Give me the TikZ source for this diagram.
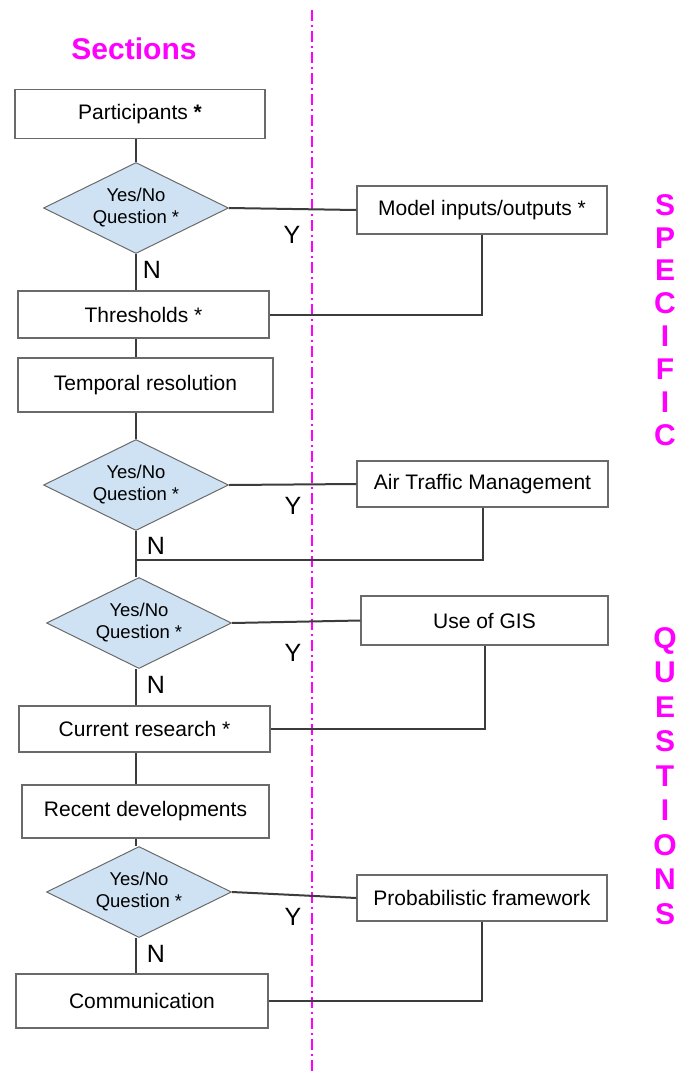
\documentclass[tikz,border=0pt]{standalone}
\usepackage{fontspec}
\setmainfont{Liberation Sans}
\usetikzlibrary{shapes.geometric}
\definecolor{mag}{HTML}{FF00FF}
\definecolor{dblue}{HTML}{CFE2F3}
\definecolor{lnc}{HTML}{3C3C3C}
\definecolor{bdc}{HTML}{6A6A6A}
\tikzset{
  boxn/.style={draw=bdc, line width=1.3pt, fill=white, inner sep=0pt, font=\fontsize{21}{25}\selectfont},
  dia/.style={diamond, draw=bdc, line width=1pt, fill=dblue, aspect=2, inner sep=0pt,
    minimum width=185pt, minimum height=91pt, align=center, font=\fontsize{18.5}{22}\selectfont},
  conn/.style={draw=lnc, line width=2pt},
  yn/.style={font=\fontsize{25}{28}\selectfont, inner sep=0pt},
  vert/.style={text=mag, align=center, inner sep=0pt},
}
\begin{document}
\begin{tikzpicture}[x=1pt, y=-1pt]
\useasboundingbox (0,0) rectangle (692,1071);
% divider
\coordinate (vt) at (312,10);
\coordinate (vb) at (312,1071);
\draw[mag, line width=2pt, dash pattern=on 11pt off 4pt on 2pt off 4pt] (vt) -- (vb);
% title
\node[text=mag, font=\bfseries\fontsize{30}{34}\selectfont, inner sep=0pt] (title) at (134,49) {Sections};
% left column
\node[boxn, minimum width=250pt, minimum height=49pt] (part) at (140,114) {Participants \textbf{*}};
\node[dia] (d1) at (136,208) {Yes/No\\Question *};
\node[boxn, minimum width=251pt, minimum height=47pt] (thr) at (143.5,314.5) {Thresholds *};
\node[boxn, minimum width=255pt, minimum height=54pt] (tmp) at (145.5,385) {Temporal resolution};
\node[dia] (d2) at (136,485) {Yes/No\\Question *};
\coordinate (j2) at (137,560);
\node[dia] (d3) at (139,623) {Yes/No\\Question *};
\node[boxn, minimum width=251pt, minimum height=46pt] (cur) at (144.5,729) {Current research *};
\node[boxn, minimum width=247pt, minimum height=53pt] (rec) at (145.5,811.5) {Recent developments};
\node[dia] (d4) at (139,892) {Yes/No\\Question *};
\node[boxn, minimum width=252pt, minimum height=54pt] (com) at (142,1001) {Communication};
% right column
\node[boxn, minimum width=250pt, minimum height=48pt] (mio) at (482,210) {Model inputs/outputs *};
\node[boxn, minimum width=251pt, minimum height=46pt] (atm) at (482.5,484) {Air Traffic Management};
\node[boxn, minimum width=247pt, minimum height=49pt] (gis) at (484.5,620.5) {Use of GIS};
\node[boxn, minimum width=250pt, minimum height=46pt] (prob) at (482,898) {Probabilistic framework};
% left vertical connectors
\draw[conn] (part.south -| d1.north) -- (d1.north);
\draw[conn] (d1.south) -- (d1.south |- thr.north);
\draw[conn] (thr.south -| d1.south) -- (tmp.north -| d1.south);
\draw[conn] (tmp.south -| d1.south) -- (d2.north);
\draw[conn] (d2.south) -- (d2.south |- d3.north);
\draw[conn] (d2.south |- d3.south) -- (d2.south |- cur.north);
\draw[conn] (d2.south |- cur.south) -- (d2.south |- rec.north);
\draw[conn] (d2.south |- rec.south) -- (d2.south |- d4.north);
\draw[conn] (d2.south |- d4.south) -- (d2.south |- com.north);
% Y branches
\draw[conn] (d1.east) -- (mio.west);
\draw[conn] (mio.south) -- (mio.south |- thr.east) -- (thr.east);
\draw[conn] (d2.east) -- (atm.west);
\draw[conn] (atm.south) -- (atm.south |- j2) -- (j2);
\draw[conn] (d3.east) -- (gis.west);
\draw[conn] (gis.south) -- (gis.south |- cur.east) -- (cur.east);
\draw[conn] (d4.east) -- (prob.west);
\draw[conn] (prob.south) -- (prob.south |- com.east) -- (com.east);
% Y / N labels
\node[yn] (y1) at (292,235) {Y};
\node[yn] (n1) at (152,270) {N};
\node[yn] (y2) at (293,506) {Y};
\node[yn] (n2) at (156,546) {N};
\node[yn] (y3) at (293,653) {Y};
\node[yn] (n3) at (156,685) {N};
\node[yn] (y4) at (293,917) {Y};
\node[yn] (n4) at (156,954) {N};
% vertical words
\node[vert, font=\bfseries\fontsize{30}{32.9}\selectfont] (spec) at (665,320) {S\\P\\E\\C\\I\\F\\I\\C};
\node[vert, font=\bfseries\fontsize{30}{34.5}\selectfont] (ques) at (665,776) {Q\\U\\E\\S\\T\\I\\O\\N\\S};
\end{tikzpicture}
\end{document}
